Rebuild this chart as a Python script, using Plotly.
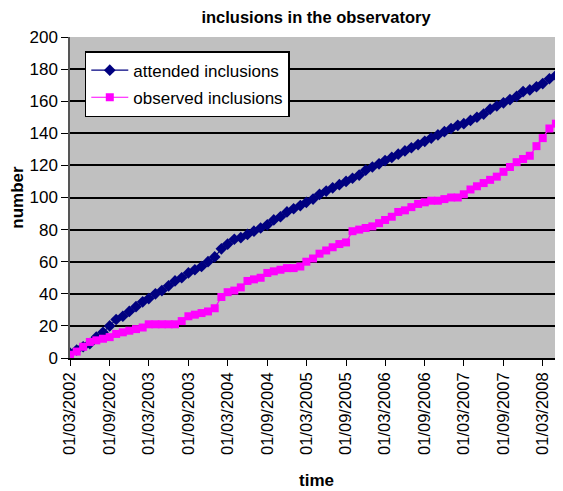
import plotly.graph_objects as go
import pandas as pd

# monthly dates from 01/03/2002
dates = pd.date_range("2002-03-01", periods=76, freq="MS")

attended = [3, 5, 7, 9, 13, 16, 20, 24, 26, 29, 32, 35, 37, 40, 42, 45, 48, 50, 53, 55,
            57, 60, 63, 68, 71, 74, 75, 77, 79, 81, 83, 86, 88, 91, 93, 95, 97, 99, 102, 104,
            106, 108, 110, 112, 114, 117, 119, 121, 123, 125, 127, 129, 131, 133, 135, 137, 139, 141, 143, 145,
            146, 148, 150, 152, 155, 157, 159, 161, 163, 166, 167, 169, 171, 174, 176, 178]

observed = [2, 4, 7, 10, 11, 12, 13, 15, 16, 17, 18, 19, 21, 21, 21, 21, 21, 23, 26, 27,
            28, 29, 31, 38, 41, 42, 44, 48, 49, 50, 53, 54, 55, 56, 56, 57, 60, 62, 65, 67,
            69, 71, 72, 79, 80, 81, 82, 84, 86, 88, 91, 92, 94, 96, 97, 98, 98, 99, 100, 100,
            102, 105, 107, 109, 111, 113, 116, 119, 122, 124, 126, 132, 137, 143, 146, 151]

tick_dates = pd.date_range("2002-03-01", periods=13, freq="6MS")
tick_labels = ["01/03/2002", "01/09/2002", "01/03/2003", "01/09/2003", "01/03/2004",
               "01/09/2004", "01/03/2005", "01/09/2005", "01/03/2006", "01/09/2006",
               "01/03/2007", "01/09/2007", "01/03/2008"]
y_ticks = [0, 20, 40, 60, 80, 100, 120, 140, 160, 180, 200]

FONT = "Liberation Sans, Arial, sans-serif"

fig = go.Figure()
fig.add_trace(go.Scatter(
    x=dates, y=attended, name="attended inclusions", mode="lines+markers",
    line=dict(color="#000080", width=1.2),
    marker=dict(symbol="diamond", size=9, color="#000080"),
    legendgroup="a",
))
fig.add_trace(go.Scatter(
    x=dates, y=observed, name="observed inclusions", mode="lines+markers",
    line=dict(color="#ff00ff", width=1.2),
    marker=dict(symbol="square", size=8, color="#ff00ff"),
    legendgroup="b",
))

# page has an 8px body margin, so the figure is sized/offset to compensate
fig.update_layout(
    width=555, height=483,
    margin=dict(l=62, r=0, t=29, b=133, autoexpand=False),
    paper_bgcolor="white",
    plot_bgcolor="#c0c0c0",
    font=dict(family=FONT, color="black"),
    title=dict(text="<b>inclusions in the observatory</b>", x=0.555, xanchor="center",
               y=0.981, yanchor="middle", font=dict(size=16.5, family=FONT)),
    legend=dict(x=0.03, y=0.956, xanchor="left", yanchor="top",
                bgcolor="white", bordercolor="black", borderwidth=1.5,
                font=dict(size=17, family=FONT), tracegroupgap=2,
                traceorder="grouped", itemwidth=37),
    showlegend=True,
)
fig.update_xaxes(
    type="date", automargin=False,
    range=["2002-03-01", "2008-06-03"],
    tickmode="array", tickvals=list(tick_dates), ticktext=tick_labels,
    tickangle=-90, tickfont=dict(size=16.5, family=FONT),
    ticks="outside", ticklen=6, tickcolor="black",
    showgrid=False, showline=True, linecolor="black", linewidth=1.5,
    zeroline=False,
    title=dict(text="<b>time</b>", font=dict(size=17, family=FONT), standoff=20),
)
fig.update_yaxes(
    range=[0, 200], tickmode="array", tickvals=y_ticks, automargin=False,
    tickfont=dict(size=17, family=FONT),
    ticks="outside", ticklen=7, tickcolor="black",
    showgrid=True, gridcolor="black", gridwidth=1.5,
    showline=True, linecolor="#555555", linewidth=1.5,
    zeroline=False,
    title=dict(text="<b>number</b>", font=dict(size=17, family=FONT), standoff=15),
)

fig.write_html("out.html")
